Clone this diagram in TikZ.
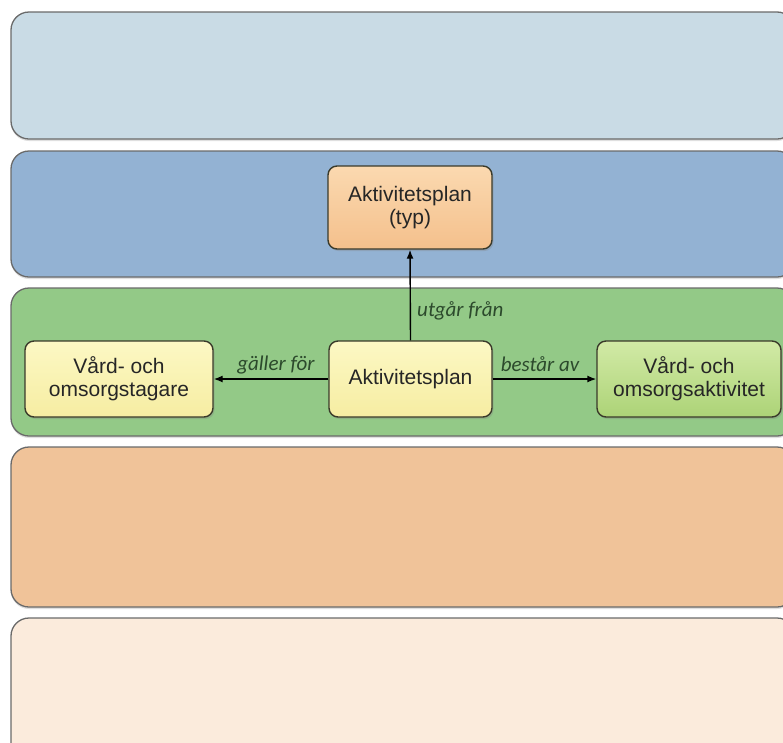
\documentclass[tikz,border=0pt]{standalone}
\usepackage{fontspec}
\setmainfont{Liberation Sans}
\newfontfamily\labfont{Carlito}
\usetikzlibrary{arrows.meta,shadows}
\definecolor{bandA}{HTML}{C9DBE5}
\definecolor{bandB}{HTML}{93B2D3}
\definecolor{bandC}{HTML}{93C987}
\definecolor{bandD}{HTML}{F0C399}
\definecolor{bandE}{HTML}{FBEBDC}
\definecolor{bandline}{HTML}{6A6A6A}
\definecolor{labgreen}{HTML}{2C4A2C}
\definecolor{nodeline}{HTML}{3A3A2A}
\definecolor{orTop}{HTML}{FBD9B0}
\definecolor{orBot}{HTML}{F4C08C}
\definecolor{yeTop}{HTML}{FCF8C4}
\definecolor{yeBot}{HTML}{F6EDA2}
\definecolor{grTop}{HTML}{D2EAA6}
\definecolor{grBot}{HTML}{ACD377}
\tikzset{
  band/.style={draw=bandline, line width=1.3pt, rounded corners=18pt,
    drop shadow={shadow xshift=0pt, shadow yshift=-2pt, opacity=0.25}},
  entity/.style={draw=nodeline, line width=1.4pt, rounded corners=9pt,
    align=center, font=\fontsize{21}{23}\selectfont, text=black!85,
    drop shadow={shadow xshift=1.5pt, shadow yshift=-2pt, opacity=0.3}},
  rel/.style={-{Latex[length=9pt,width=7pt]}, line width=1.4pt, black},
  lab/.style={font=\labfont\itshape\fontsize{21}{23}\selectfont, text=labgreen}
}
\begin{document}
\begin{tikzpicture}[x=1pt,y=-1pt]
\useasboundingbox (0,0) rectangle (783,742);
\clip (0,0) rectangle (783,742);
\fill[white] (0,0) rectangle (783,742);
% bands
\path[band, fill=bandA] (11,12) rectangle (795,139);
\path[band, fill=bandB] (11,151) rectangle (795,277);
\path[band, fill=bandC] (11,288) rectangle (795,436);
\path[band, fill=bandD] (11,447) rectangle (795,607);
\path[band, fill=bandE] (11,618) rectangle (795,770);
% nodes
\node[entity, top color=orTop, bottom color=orBot, minimum width=164pt, minimum height=83pt] (typ) at (410,207.5) {Aktivitetsplan\\(typ)};
\node[entity, top color=yeTop, bottom color=yeBot, minimum width=188pt, minimum height=76pt] (tag) at (119,379) {Vård- och\\omsorgstagare};
\node[entity, top color=yeTop, bottom color=yeBot, minimum width=163pt, minimum height=76pt] (plan) at (410.5,379) {Aktivitetsplan};
\node[entity, top color=grTop, bottom color=grBot, minimum width=184pt, minimum height=76pt] (akt) at (689,379) {Vård- och\\omsorgsaktivitet};
% connectors
\draw[rel] (plan.north) -- (typ.south);
\draw[rel] (plan.west) -- (tag.east);
\draw[rel] (plan.east) -- (akt.west);
% labels
\node[lab, anchor=base west, inner sep=0pt] (l1) at (417,316) {utgår från};
\node[lab, anchor=base] (l2) at (276,370) {gäller för};
\node[lab, anchor=base] (l3) at (540,371) {består av};
\end{tikzpicture}
\end{document}
